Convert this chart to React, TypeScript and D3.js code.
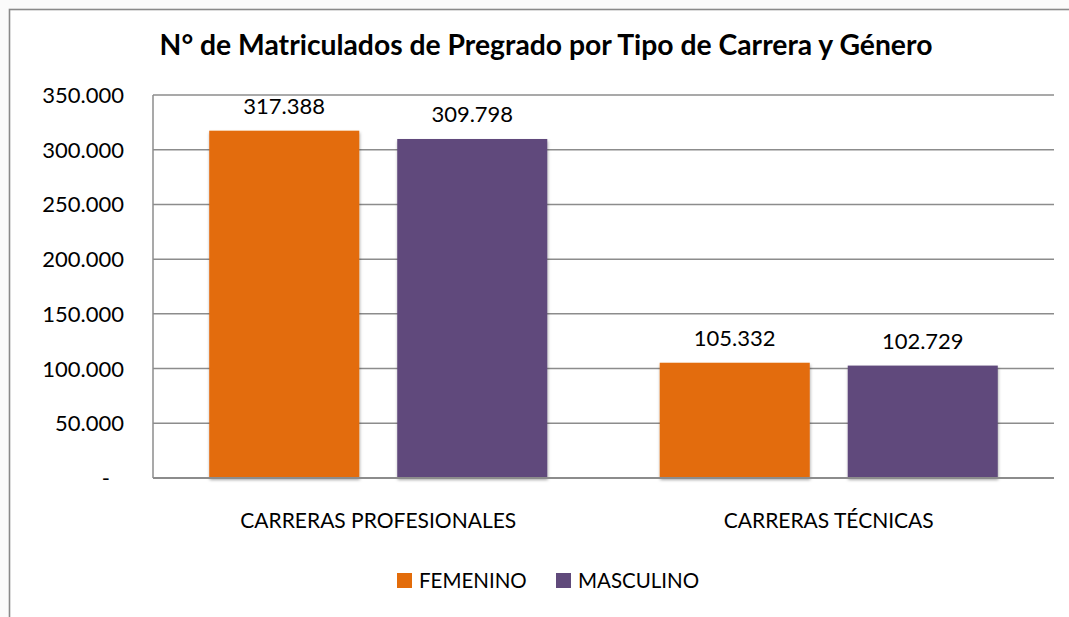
import React from "react";
import * as d3 from "d3";

const categories = ["CARRERAS PROFESIONALES", "CARRERAS TÉCNICAS"];
const seriesNames = ["FEMENINO", "MASCULINO"];
const femenino = [317388, 105332];
const masculino = [309798, 102729];
const yTicks = [0, 50000, 100000, 150000, 200000, 250000, 300000, 350000];
const title = "N° de Matriculados de Pregrado por Tipo de Carrera y Género";

const colors = ["#E36C0A", "#604A7B"];
const FONT = "Lato, 'Open Sans', sans-serif";

const fmt = (v: number) => (v === 0 ? "-" : d3.format(",.0f")(v).replace(/,/g, "."));

export default function App() {
  const W = 1069, H = 617;
  const left = 153, right = 1054, top = 95, bottom = 478;

  const x0 = d3.scaleBand<string>().domain(categories).range([left, right]).paddingInner(0).paddingOuter(0);
  const x1 = d3.scaleBand<string>().domain(seriesNames).range([0, x0.bandwidth()]).paddingInner(0.202).paddingOuter(0.299);
  const y = d3.scaleLinear().domain([0, 350000]).range([bottom, top]);

  const series = [femenino, masculino];

  return (
    <svg width={W} height={H} style={{ position: "absolute", left: 0, top: 0, background: "#fbfbfb" }} fontFamily={FONT}>
      <defs>
        <filter id="sh" x="-10%" y="-10%" width="120%" height="120%">
          <feDropShadow dx="0.5" dy="2" stdDeviation="1.8" floodColor="#000" floodOpacity="0.35" />
        </filter>
      </defs>
      <rect x={9.5} y={9.5} width={W} height={H} fill="#fff" stroke="#8a8a8a" strokeWidth={1.6} />
      <text x={546} y={55} textAnchor="middle" fontWeight="bold" fontSize={28.3} fill="#000">{title}</text>

      {yTicks.map((t) => (
        <g key={t}>
          {t > 0 && <line x1={left} x2={right} y1={y(t)} y2={y(t)} stroke="#8c8c8c" strokeWidth={1.5} />}
          <text x={t === 0 ? 110 : 124} y={y(t) + 8} textAnchor="end" fontSize={22} fill="#000">{fmt(t)}</text>
        </g>
      ))}
      <line x1={left} x2={left} y1={top} y2={bottom} stroke="#8c8c8c" strokeWidth={1.5} />

      {categories.map((c, ci) => (
        <g key={c}>
          {seriesNames.map((s, si) => {
            const v = series[si][ci];
            const bx = (x0(c) as number) + (x1(s) as number);
            return (
              <g key={s}>
                <rect x={bx} y={y(v)} width={x1.bandwidth()} height={bottom - y(v)} fill={colors[si]} filter="url(#sh)" />
                <text x={bx + x1.bandwidth() / 2} y={y(v) - 17} textAnchor="middle" fontSize={22} fill="#000">{fmt(v)}</text>
              </g>
            );
          })}
          <text x={(x0(c) as number) + x0.bandwidth() / 2} y={528} textAnchor="middle" fontSize={21} fill="#000">{c}</text>
        </g>
      ))}
      <line x1={left} x2={right} y1={bottom} y2={bottom} stroke="#8c8c8c" strokeWidth={1.8} />

      {seriesNames.map((s, i) => {
        const lx = [397, 556][i];
        return (
          <g key={s}>
            <rect x={lx} y={573} width={15} height={15} fill={colors[i]} />
            <text x={lx + 22} y={588} fontSize={20.5} fill="#000">{s}</text>
          </g>
        );
      })}
    </svg>
  );
}
